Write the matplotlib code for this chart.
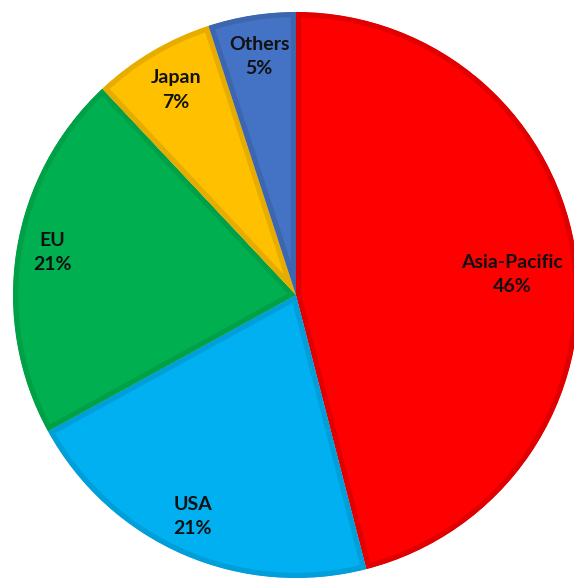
import matplotlib
matplotlib.use("Agg")
import matplotlib.pyplot as plt
from matplotlib.patches import Wedge
import numpy as np

# Market share by region
regions = ["Asia-Pacific", "USA", "EU", "Japan", "Others"]
shares = [46, 21, 21, 7, 5]
fill_colors = ["#FF0000", "#00B0F0", "#00B050", "#FFC000", "#4472C4"]
edge_colors = ["#E00000", "#009FD9", "#00A047", "#E6AD00", "#3D66B0"]
# label centres in pixel coordinates (x, y from top)
label_pos = [(512, 275), (193, 516), (52, 253), (176, 90), (259, 57)]

W, H = 574, 581
fig = plt.figure(figsize=(W / 100, H / 100), dpi=100)
ax = fig.add_axes([0, 0, 1, 1])
ax.set_xlim(0, W)
ax.set_ylim(0, H)
ax.axis("off")

cx, cy, r = 296, H - 295, 283
# slices run clockwise from twelve o'clock
fracs = np.array(shares, dtype=float) / sum(shares)
ends = 90 - 360 * np.cumsum(fracs)
starts = np.concatenate([[90], ends[:-1]])

for t1, t2, fc, ec in zip(starts, ends, fill_colors, edge_colors):
    w = Wedge((cx, cy), r, t2, t1, facecolor=fc, edgecolor=ec, linewidth=7.5,
              joinstyle="miter")
    ax.add_patch(w)
    # keep the stroke inside the slice so it reads as an inner border
    w.set_clip_path(w)

for name, val, (lx, ly) in zip(regions, shares, label_pos):
    ax.text(lx, H - ly, f"{name}\n{val}%", ha="center", va="center",
            fontsize=14, fontweight="bold", family="Lato", color="#111111",
            linespacing=1.5)

fig.savefig("out.png", dpi=100)
